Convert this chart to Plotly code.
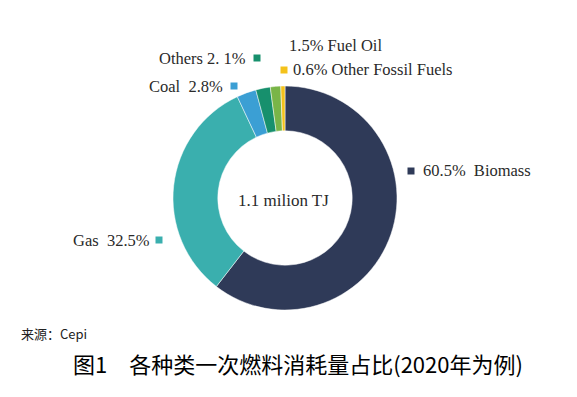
import plotly.graph_objects as go

categories = ["Biomass", "Gas", "Coal", "Others", "Fuel Oil", "Other Fossil Fuels"]
shares = [60.5, 32.5, 2.8, 2.1, 1.5, 0.6]
colors = ["#2f3a58", "#3aafae", "#3b9fd4", "#17906d", "#79b548", "#f4c21b"]
label_texts = ["60.5%  Biomass", "Gas  32.5%", "Coal  2.8%", "Others 2. 1%", "1.5% Fuel Oil", "0.6% Other Fossil Fuels"]
center_text = "1.1 milion TJ"
source_text = "来源：Cepi"
title_text = "图1\u3000各种类一次燃料消耗量占比(2020年为例)"

W, H = 577, 397
fig = go.Figure()
fig.add_trace(go.Pie(
    labels=categories, values=shares, hole=0.6, sort=False, direction="clockwise",
    rotation=0, marker=dict(colors=colors, line=dict(color="white", width=0.5)),
    textinfo="none", hoverinfo="label+percent", showlegend=False,
    domain=dict(x=[173 / W, 397 / W], y=[1 - 310 / H, 1 - 86 / H]),
))

serif = "Liberation Serif, Times New Roman, serif"
tc = "#2a2a2a"

def px(x):
    return x / W

def py(y):
    return 1 - y / H

# (text, x, y, anchor, square_x, color index or None)
label_layout = [
    (label_texts[0], 421, 171, "left", 411, 0),
    (label_texts[1], 152, 240, "right", 159, 1),
    (label_texts[2], 225, 86, "right", 234, 2),
    (label_texts[3], 248, 58, "right", 257, 3),
    (label_texts[4], 287, 45, "left", None, 4),
    (label_texts[5], 291, 70, "left", 284, 5),
]
annotations = []
shapes = []
for text, x, y, anchor, sx, ci in label_layout:
    annotations.append(dict(text=text, x=px(x), y=py(y), xref="paper", yref="paper",
                            xanchor=anchor, yanchor="middle", showarrow=False,
                            font=dict(family=serif, size=16.5, color=tc)))
    if sx is not None:
        shapes.append(dict(type="rect", xref="paper", yref="paper",
                           x0=px(sx - 3.5), x1=px(sx + 3.5), y0=py(y + 3.5), y1=py(y - 3.5),
                           fillcolor=colors[ci], line=dict(width=0)))

annotations.append(dict(text=center_text, x=px(283), y=py(200), xref="paper", yref="paper",
                        showarrow=False, xanchor="center", yanchor="middle",
                        font=dict(family=serif, size=17, color=tc)))
annotations.append(dict(text=source_text, x=px(19), y=py(333), xref="paper", yref="paper",
                        showarrow=False, xanchor="left", yanchor="middle",
                        font=dict(family="Noto Sans CJK SC, sans-serif", size=13, color="#222222")))
annotations.append(dict(text=title_text, x=px(71), y=py(363), xref="paper", yref="paper",
                        showarrow=False, xanchor="left", yanchor="middle",
                        font=dict(family="Noto Sans CJK SC, sans-serif", size=22, color="#000000")))

fig.update_layout(width=W, height=H, margin=dict(l=0, r=0, t=0, b=0),
                  paper_bgcolor="white", plot_bgcolor="white",
                  annotations=annotations, shapes=shapes)
fig.write_html("out.html", config={"displayModeBar": False},
               post_script="document.body.style.margin='0px';document.body.style.padding='0px';")
